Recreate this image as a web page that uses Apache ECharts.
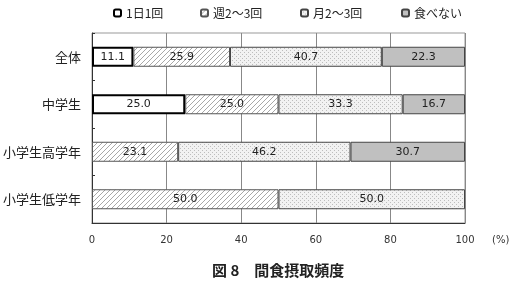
<!DOCTYPE html>
<html><head><meta charset="utf-8">
<script src="https://cdn.jsdelivr.net/npm/echarts@6/dist/echarts.min.js"></script>
<style>html,body{margin:0;padding:0;background:#fff}#c{width:513px;height:290px}</style>
</head><body><div id="c"></div>
<script>
const categories = ['全体', '中学生', '小学生高学年', '小学生低学年'];
const seriesNames = ['1日1回', '週2〜3回', '月2〜3回', '食べない'];
const onceADay = [11.1, 25.0, null, null];
const twoThreeWeek = [25.9, 25.0, 23.1, 50.0];
const twoThreeMonth = [40.7, 33.3, 46.2, 50.0];
const never = [22.3, 16.7, 30.7, null];
const xTicks = [0, 20, 40, 60, 80, 100];

function hatch() {
  const c = document.createElement('canvas'); c.width = 5; c.height = 5;
  const g = c.getContext('2d');
  g.fillStyle = '#fff'; g.fillRect(0, 0, 5, 5);
  g.strokeStyle = '#a8a8a8'; g.lineWidth = 1;
  g.beginPath();
  g.moveTo(-1, 6); g.lineTo(6, -1);
  g.moveTo(-1, 1); g.lineTo(1, -1);
  g.moveTo(4, 6); g.lineTo(6, 4);
  g.stroke();
  return c;
}
function dots() {
  const c = document.createElement('canvas'); c.width = 4; c.height = 4;
  const g = c.getContext('2d');
  g.fillStyle = '#f2f2f2'; g.fillRect(0, 0, 4, 4);
  g.fillStyle = '#bdbdbd';
  g.fillRect(0, 0, 1, 1); g.fillRect(2, 2, 1, 1);
  return c;
}

const chart = echarts.init(document.getElementById('c'));
const lab = { show: true, position: 'inside', color: '#222', fontSize: 11, fontFamily: 'DejaVu Sans',
  formatter: p => p.value == null ? '' : p.value.toFixed(1) };
const styles = [
  { color: '#fff', borderColor: '#000', borderWidth: 2 },
  { color: { image: hatch(), repeat: 'repeat' }, borderColor: '#555', borderWidth: 1 },
  { color: { image: dots(), repeat: 'repeat' }, borderColor: '#444', borderWidth: 1 },
  { color: '#c0c0c0', borderColor: '#444', borderWidth: 1 }
];
const dataArr = [onceADay, twoThreeWeek, twoThreeMonth, never];
const legendLefts = [108, 195, 295, 396];

chart.setOption({
  animation: false,
  textStyle: { fontFamily: 'Noto Sans CJK JP' },
  grid: { left: 91, right: 48, top: 33, bottom: 67, show: true, borderColor: '#999', borderWidth: 1 },
  legend: seriesNames.map((n, i) => ({
    data: [n], left: legendLefts[i], top: 2, itemWidth: 7, itemHeight: 7,
    textStyle: { fontSize: 12, color: '#222', fontFamily: 'Noto Sans CJK JP' }
  })),
  xAxis: {
    type: 'value', min: xTicks[0], max: xTicks[xTicks.length - 1], interval: 20,
    axisLine: { show: true, lineStyle: { color: '#333', width: 1 } },
    axisTick: { show: false },
    axisLabel: { margin: 12, fontSize: 10, color: '#333', fontFamily: 'DejaVu Sans' },
    splitLine: { show: true, lineStyle: { color: '#888', width: 1 } }
  },
  yAxis: {
    type: 'category', data: categories, inverse: true,
    axisLine: { show: true, lineStyle: { color: '#333', width: 1 } },
    axisTick: { show: true, inside: true, length: 3, lineStyle: { color: '#333' } },
    axisLabel: { margin: 11, fontSize: 13, color: '#222', fontFamily: 'Noto Sans CJK JP' },
    splitLine: { show: false }
  },
  series: seriesNames.map((n, i) => ({
    name: n, type: 'bar', stack: 'all', data: dataArr[i], barWidth: 20,
    itemStyle: styles[i], label: lab
  })),
  graphic: [
    { type: 'text', left: 492, top: 235, style: { text: '(%)', fontSize: 10, fill: '#333', fontFamily: 'DejaVu Sans' } },
    { type: 'text', left: 212, top: 263, style: { text: '図 8　間食摂取頻度', fontSize: 15, fontWeight: 'bold', fill: '#222', fontFamily: 'Noto Sans CJK JP' } }
  ]
});
</script></body></html>
